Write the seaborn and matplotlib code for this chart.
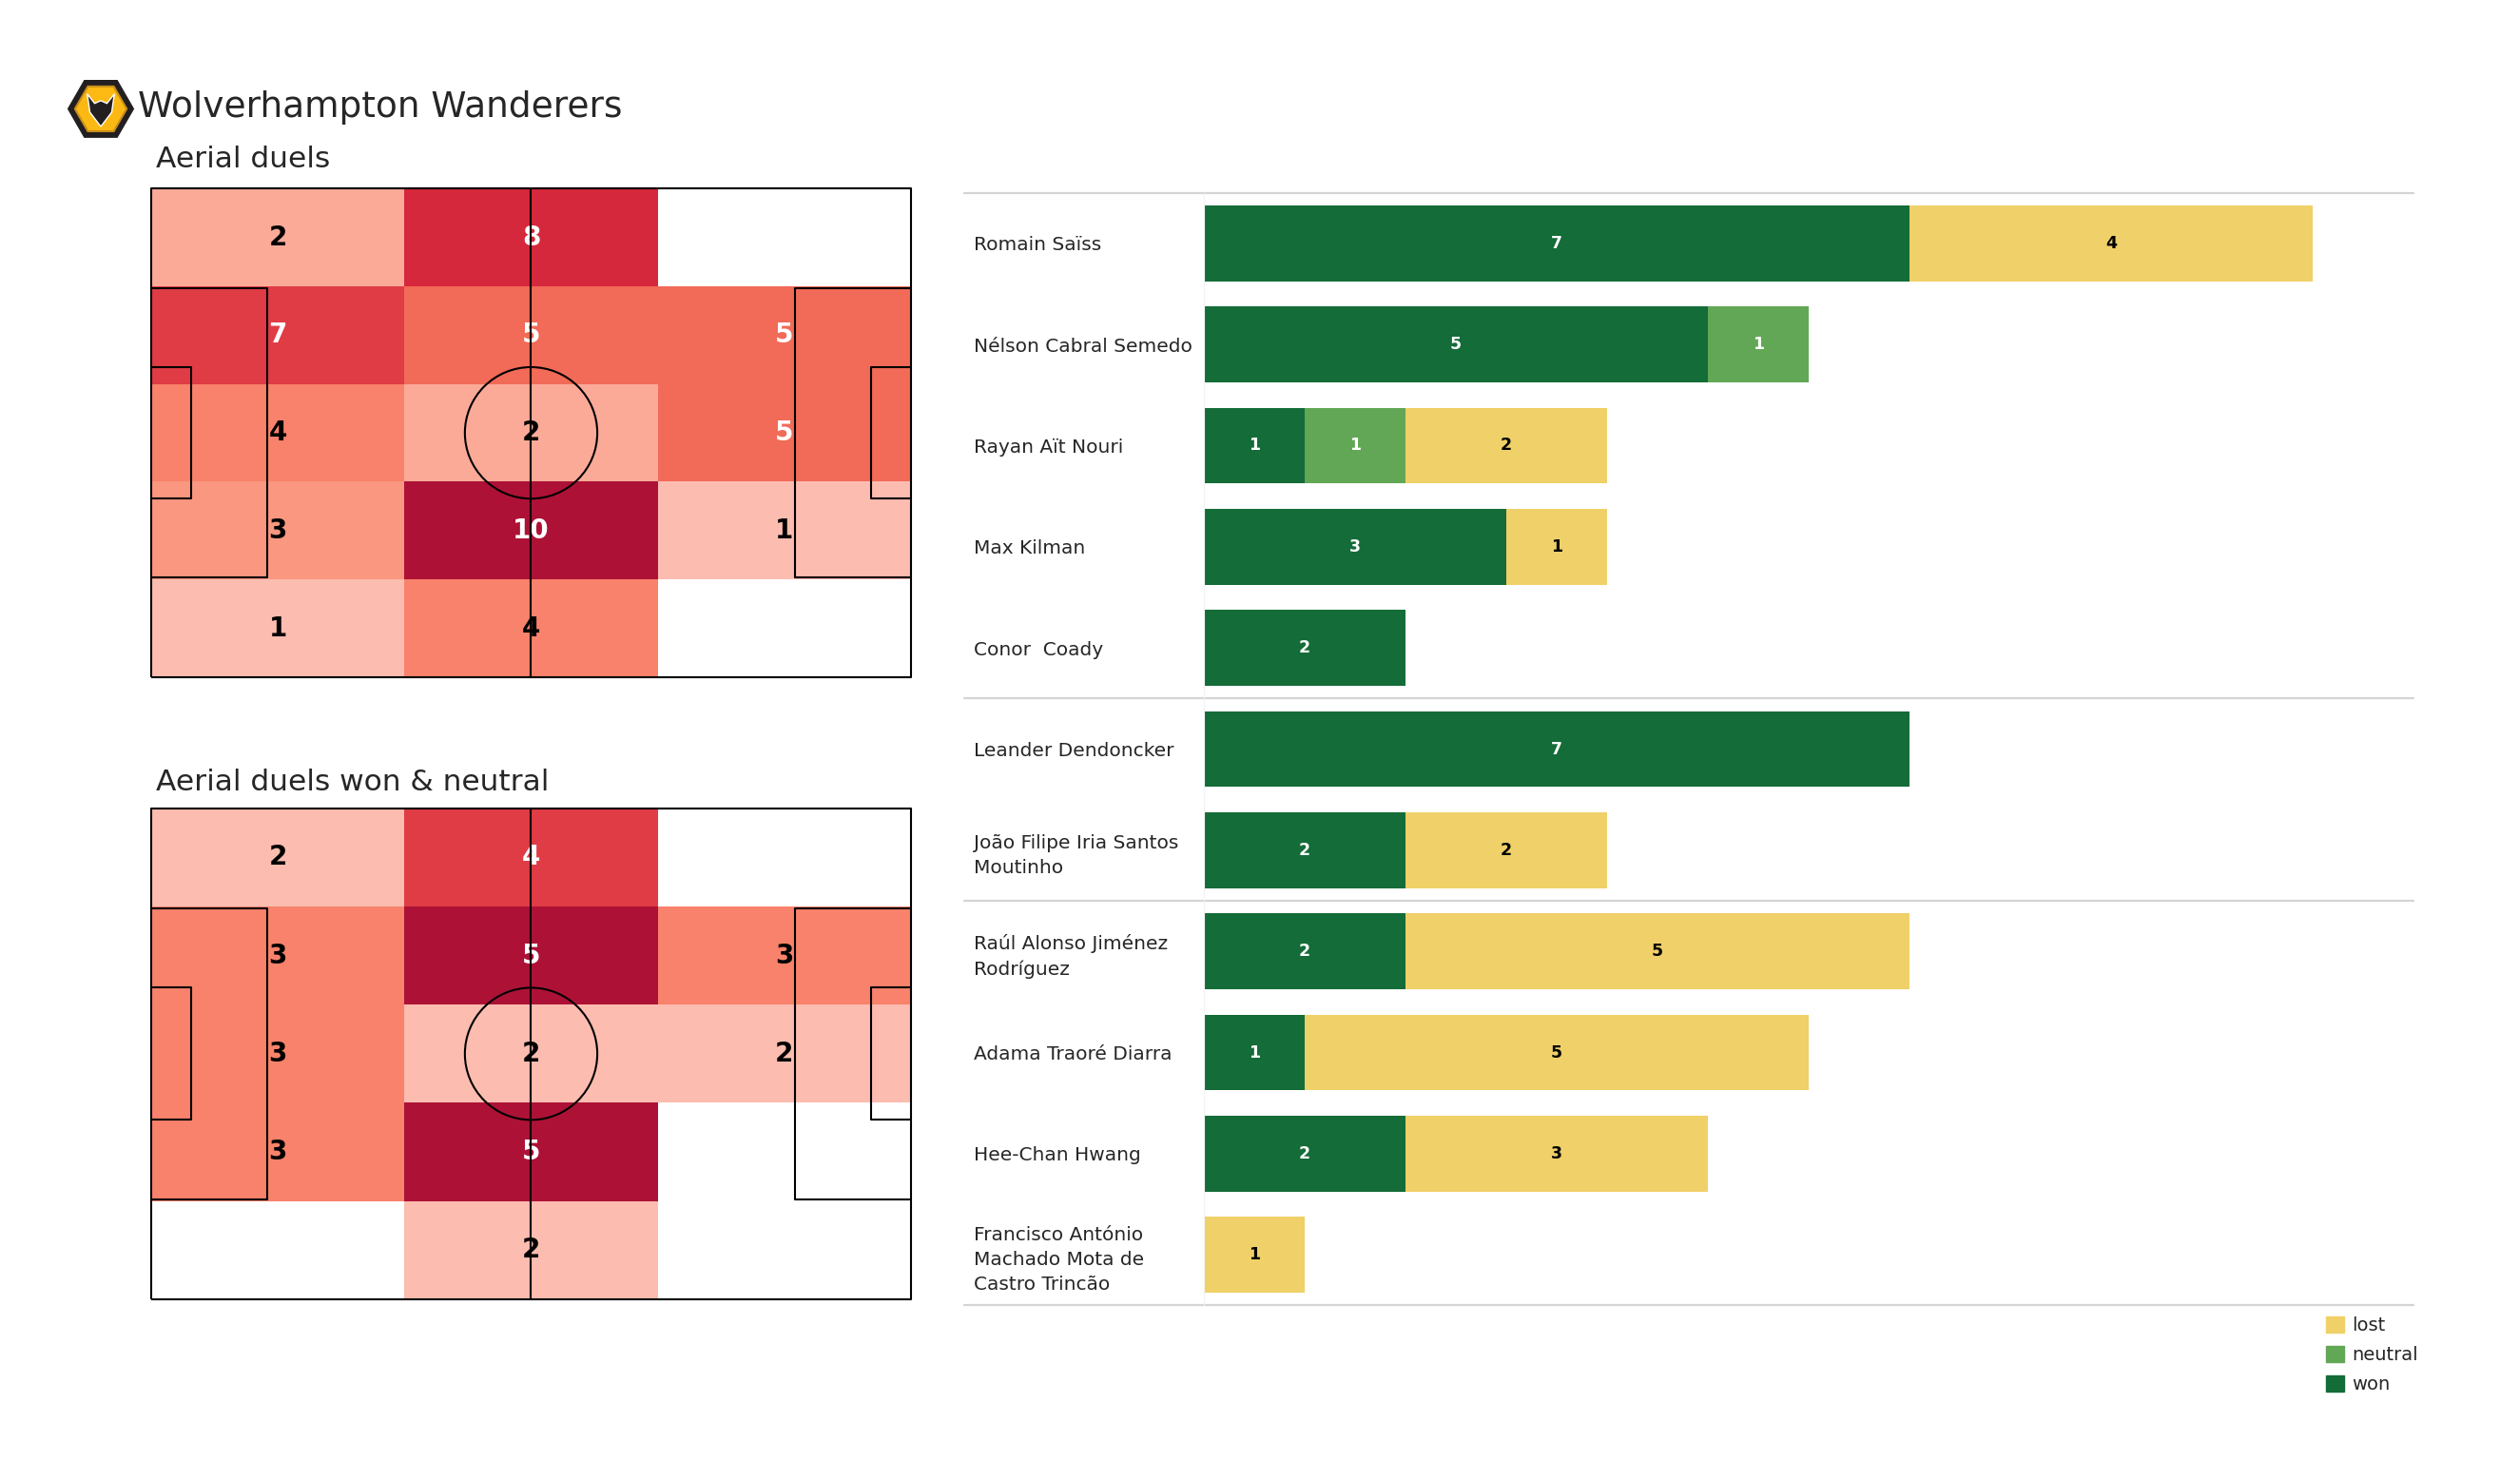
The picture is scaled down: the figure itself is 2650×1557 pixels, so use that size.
"""
Wolves aerial duels: zone heatmaps (all / won & neutral) plus a per-player
stacked bar chart of won / neutral / lost aerial duels.
"""

import matplotlib

matplotlib.use("Agg")
import matplotlib.patches as mpatches
import matplotlib.pyplot as plt
import numpy as np
import pandas as pd
import seaborn as sns
from matplotlib.colors import LinearSegmentedColormap

sns.set_style("white")
plt.rcParams["font.family"] = ["DejaVu Sans"]

TEAM = "Wolverhampton Wanderers"

# Zone counts, rows top -> bottom, columns left -> right (0 = empty zone).
aerial_all = [
    [2, 8, 0],
    [7, 5, 5],
    [4, 2, 5],
    [3, 10, 1],
    [1, 4, 0],
]
aerial_won_neutral = [
    [2, 4, 0],
    [3, 5, 3],
    [3, 2, 2],
    [3, 5, 0],
    [0, 2, 0],
]

players = [
    "Romain Saïss",
    "Nélson Cabral Semedo",
    "Rayan Aït Nouri",
    "Max Kilman",
    "Conor  Coady",
    "Leander Dendoncker",
    "João Filipe Iria Santos Moutinho",
    "Raúl Alonso Jiménez Rodríguez",
    "Adama Traoré Diarra",
    "Hee-Chan Hwang",
    "Francisco António Machado Mota de Castro Trincão",
]
player_labels = [
    "Romain Saïss",
    "Nélson Cabral Semedo",
    "Rayan Aït Nouri",
    "Max Kilman",
    "Conor  Coady",
    "Leander Dendoncker",
    "João Filipe Iria Santos\nMoutinho",
    "Raúl Alonso Jiménez\nRodríguez",
    "Adama Traoré Diarra",
    "Hee-Chan Hwang",
    "Francisco António\nMachado Mota de\nCastro Trincão",
]
positions = ["DF"] * 5 + ["MF"] * 2 + ["FW"] * 4
won = [7, 5, 1, 3, 2, 7, 2, 2, 1, 2, 0]
neutral = [0, 1, 1, 0, 0, 0, 0, 0, 0, 0, 0]
lost = [4, 0, 2, 1, 0, 0, 2, 5, 5, 3, 1]

WON = "#146c38"
NEUTRAL = "#62a755"
LOST = "#f0d068"
GRID = "#d4d4d4"

ZONE_CMAP = LinearSegmentedColormap.from_list(
    "zones",
    [
        (0.0, "#fcbcb0"),
        (0.111, "#fbaa98"),
        (0.222, "#f9977f"),
        (0.333, "#f8826b"),
        (0.444, "#f26a58"),
        (0.667, "#e03c45"),
        (0.778, "#d6283c"),
        (1.0, "#ad1236"),
    ],
)


def draw_pitch(ax, lc="black", lw=1.5):
    """Plain horizontal 105x68 pitch: outline, halfway line, boxes, circle."""
    L, W = 105, 68
    kw = dict(color=lc, lw=lw, clip_on=False, solid_capstyle="butt")
    ax.plot([0, L, L, 0, 0], [0, 0, W, W, 0], **kw)
    ax.plot([L / 2, L / 2], [0, W], **kw)
    for x0, sgn in [(0, 1), (L, -1)]:
        for depth, width in [(16.0, 40.32), (5.5, 18.32)]:
            y0, y1 = W / 2 - width / 2, W / 2 + width / 2
            ax.plot([x0, x0 + sgn * depth, x0 + sgn * depth, x0],
                    [y0, y0, y1, y1], **kw)
    ax.add_patch(mpatches.Circle((L / 2, W / 2), 9.15, fill=False,
                                 ec=lc, lw=lw))
    ax.set_xlim(0, L)
    ax.set_ylim(0, W)
    ax.axis("off")


def draw_zone_heatmap(fig, rect, counts):
    data = np.array(counts)
    nz = data[data > 0]
    vmin, vmax = nz.min(), nz.max()

    hm_ax = fig.add_axes(rect)
    sns.heatmap(
        data, ax=hm_ax, mask=data == 0, cmap=ZONE_CMAP,
        vmin=vmin, vmax=vmax, cbar=False,
        annot=True, fmt="d",
        annot_kws={"fontsize": 20, "fontweight": "bold"},
        xticklabels=False, yticklabels=False,
    )
    # dark cells get white numbers
    for t in hm_ax.texts:
        v = int(t.get_text())
        t.set_color("white" if (v - vmin) / (vmax - vmin) > 0.4 else "black")

    pitch_ax = fig.add_axes(rect)
    pitch_ax.patch.set_alpha(0)
    draw_pitch(pitch_ax)


def draw_logo(fig, rect):
    ax = fig.add_axes(rect)
    ax.add_patch(mpatches.RegularPolygon((0.5, 0.5), 6, radius=0.48,
                                         orientation=np.pi / 6,
                                         fc="#231f20", ec="#231f20", lw=1))
    ax.add_patch(mpatches.RegularPolygon((0.5, 0.5), 6, radius=0.38,
                                         orientation=np.pi / 6,
                                         fc="#fdb913", ec="#c8901a", lw=1.5))
    ax.add_patch(mpatches.Polygon(
        [(0.30, 0.72), (0.41, 0.58), (0.50, 0.62), (0.59, 0.58),
         (0.70, 0.72), (0.66, 0.45), (0.50, 0.24), (0.34, 0.45)],
        fc="#231f20"))
    ax.set_xlim(0, 1)
    ax.set_ylim(0, 1)
    ax.set_aspect("equal")
    ax.axis("off")


def draw_player_bars(fig, rect):
    df = pd.DataFrame({"player": players, "won": won,
                       "neutral": neutral, "lost": lost})
    df["won_neutral"] = df["won"] + df["neutral"]
    df["total"] = df["won_neutral"] + df["lost"]

    ax = fig.add_axes(rect)
    # overlapping cumulative bars give the stacked look
    for col, colr in [("total", LOST), ("won_neutral", NEUTRAL), ("won", WON)]:
        sns.barplot(data=df, y="player", x=col, color=colr, orient="h",
                    width=0.75, saturation=1, errorbar=None, linewidth=0,
                    ax=ax)

    for i, row in df.iterrows():
        start = 0
        for col, tc in [("won", "white"), ("neutral", "white"), ("lost", "black")]:
            v = row[col]
            if v > 0:
                ax.text(start + v / 2, i, str(v), ha="center", va="center",
                        color=tc, fontsize=12.5, fontweight="bold")
            start += v

    n = len(players)
    ax.set_xlim(0, 12)
    ax.set_ylim(n - 0.5, -0.5)
    ax.set_xlabel("")
    ax.set_ylabel("")
    ax.set_xticks([])
    ax.set_yticks(range(n), labels=player_labels)
    for lab in ax.get_yticklabels():
        lab.set_ha("left")
        lab.set_linespacing(1.45)
    ax.tick_params(axis="y", length=0, pad=174, labelsize=14.5)
    sns.despine(ax=ax, left=False, bottom=True)
    ax.spines["left"].set_color("#f2f2f2")

    # group separators (defenders / midfielders / forwards)
    breaks = [-0.5] + [i + 0.5 for i in range(n - 1)
                       if positions[i] != positions[i + 1]] + [n - 0.5]
    for y in breaks:
        ax.plot([-2.38, 12], [y, y], color=GRID, lw=1.6, clip_on=False)


def main():
    fig = plt.figure(figsize=(26.5, 15.57), dpi=100)

    draw_logo(fig, [0.0265, 0.9015, 0.027, 0.050])
    fig.text(0.0547, 0.9275, TEAM, fontsize=27, va="center", ha="left")

    fig.text(0.0619, 0.8925, "Aerial duels", fontsize=22.5, va="center")
    draw_zone_heatmap(fig, [0.060, 0.5427, 0.3015, 0.330], aerial_all)

    fig.text(0.0619, 0.4717, "Aerial duels won & neutral", fontsize=22.5,
             va="center")
    draw_zone_heatmap(fig, [0.060, 0.1227, 0.3015, 0.3315], aerial_won_neutral)

    draw_player_bars(fig, [0.4777, 0.1185, 0.48, 0.7514])

    handles = [mpatches.Patch(color=LOST, label="lost"),
               mpatches.Patch(color=NEUTRAL, label="neutral"),
               mpatches.Patch(color=WON, label="won")]
    fig.legend(handles=handles, loc="upper left", bbox_to_anchor=(0.9194, 0.1175),
               frameon=False, fontsize=14, handlelength=0.95, handleheight=0.95,
               handletextpad=0.45, labelspacing=0.62, borderpad=0)

    fig.savefig("out.png", dpi=100, facecolor="white")
    plt.close(fig)


if __name__ == "__main__":
    main()
